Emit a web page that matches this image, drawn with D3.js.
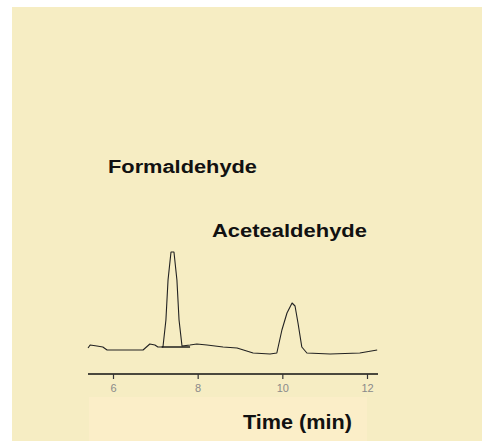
<!DOCTYPE html>
<html>
<head>
<meta charset="utf-8">
<script src="https://cdn.jsdelivr.net/npm/d3@7"></script>
<style>
    body { margin: 0; background: #ffffff; }
    svg { display: block; }
</style>
</head>
<body>
<svg id="chart" width="482" height="441"></svg>
<script>
// Chromatogram trace (time in min, detector signal in arbitrary units)
const times = [5.41, 5.46, 5.62, 5.76, 5.86, 6.71, 6.87, 6.99, 7.06, 7.18, 7.25, 7.30, 7.37, 7.44,
    7.51, 7.56, 7.63, 7.82, 7.98, 8.22, 8.60, 8.93, 9.31, 9.71, 9.87, 9.99, 10.11, 10.23, 10.30,
    10.37, 10.46, 10.58, 11.13, 11.83, 12.24];
const signal = [7, 10, 9, 8, 5, 5, 11, 10, 8, 8, 35, 75, 103, 103,
    75, 35, 9, 10, 11, 10, 8, 7, 2, 1, 2, 25, 42, 52, 49,
    32, 8, 2, 1, 2, 5];

// Integration baseline drawn under the formaldehyde peak
const baseTimes  = [7.15, 7.82];
const baseSignal = [8, 8];

const tickValues = [6, 8, 10, 12];
const peakNames  = ["Formaldehyde", "Acetealdehyde"];
const axisTitle  = "Time (min)";

let svg  = d3.select("#chart");
let font = "Liberation Sans, Arial, sans-serif";

// Panel background
svg.append("rect")
    .attr("x", 12).attr("y", 7)
    .attr("width", 470).attr("height", 434)
    .attr("fill", "#f6edc3");

svg.append("rect")
    .attr("x", 89).attr("y", 397)
    .attr("width", 278).attr("height", 44)
    .attr("fill", "#fbeec8");

let x = d3.scaleLinear().domain([6, 12]).range([113, 367]);
let y = d3.scaleLinear().domain([0, 100]).range([355, 255]);

let line = d3.line()
    .x(d => x(d[0]))
    .y(d => y(d[1]));

// Trace
svg.append("path")
    .attr("d", line(times.map((t, i) => [t, signal[i]])))
    .attr("fill", "none")
    .attr("stroke", "#222")
    .attr("stroke-width", 1.1)
    .attr("stroke-linejoin", "round");

svg.append("path")
    .attr("d", line(baseTimes.map((t, i) => [t, baseSignal[i]])))
    .attr("fill", "none")
    .attr("stroke", "#111")
    .attr("stroke-width", 1.4);

// Time axis
let axis = svg.append("g")
    .attr("transform", "translate(0,374)")
    .call(d3.axisBottom(x)
        .tickValues(tickValues)
        .tickFormat(d3.format("d"))
        .tickSize(5)
        .tickPadding(5)
        .tickSizeOuter(0));

axis.select(".domain")
    .attr("d", "M" + (x(6) - 25) + ",0H" + (x(12) + 11))
    .attr("stroke", "#111")
    .attr("stroke-width", 1.6);

axis.selectAll(".tick line").attr("stroke", "#333").attr("stroke-width", 1.2);
axis.selectAll(".tick text")
    .attr("fill", "#8a8a8a")
    .style("font-family", font)
    .style("font-size", "11px");

// Labels
function addLabel(txt, lx, ly, size, width)
{
    svg.append("text")
        .attr("x", lx).attr("y", ly)
        .attr("textLength", width)
        .attr("lengthAdjust", "spacingAndGlyphs")
        .text(txt)
        .style("font-family", font)
        .style("font-weight", "bold")
        .style("font-size", size + "px")
        .attr("fill", "#111");
}

addLabel(peakNames[0], 108, 173, 18, 149);
addLabel(peakNames[1], 212, 237, 18, 155);
addLabel(axisTitle, 243, 429, 20, 109);
</script>
</body>
</html>
